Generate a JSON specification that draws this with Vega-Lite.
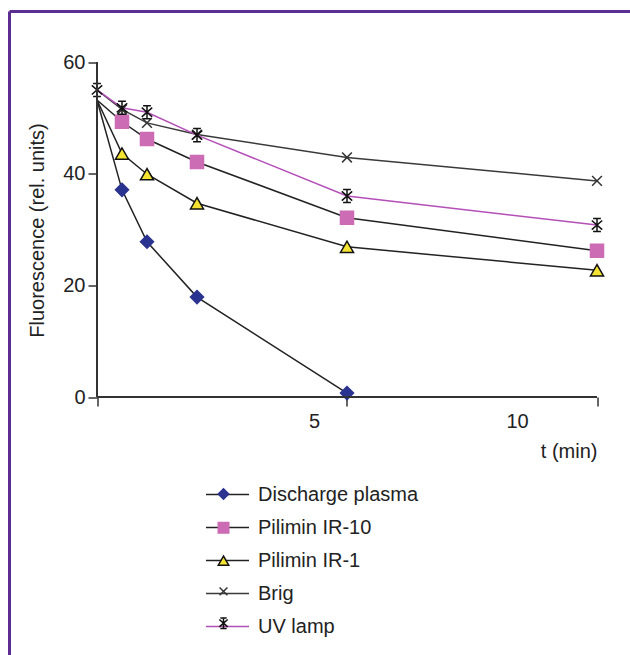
{
  "$schema": "https://vega.github.io/schema/vega-lite/v6.json",
  "width": 620.5,
  "height": 643.5,
  "autosize": {"type": "none"},
  "padding": {"left": 9.5, "top": 11.5, "right": 0, "bottom": 0},
  "background": "white",
  "view": {"stroke": "#5c2e91", "strokeWidth": 3, "strokeDash": [620.5, 1264, 643.5, 0]},
  "config": {
    "font": "Liberation Sans",
    "axis": {"grid": false, "domain": false, "labelFont": "Liberation Sans", "titleFont": "Liberation Sans", "labelFontSize": 20, "titleFontSize": 20, "labelColor": "#222", "titleColor": "#222", "titleFontWeight": "normal", "tickColor": "#333", "tickWidth": 1.5, "tickSize": 9}
  },
  "data": {"values": [
    {"series": "Discharge plasma", "t": 0, "v": 53.2},
    {"series": "Discharge plasma", "t": 0.5, "v": 37.1},
    {"series": "Discharge plasma", "t": 1, "v": 27.8},
    {"series": "Discharge plasma", "t": 2, "v": 17.9},
    {"series": "Discharge plasma", "t": 5, "v": 0.7},
    {"series": "Pilimin IR-10", "t": 0, "v": 53.2},
    {"series": "Pilimin IR-10", "t": 0.5, "v": 49.3},
    {"series": "Pilimin IR-10", "t": 1, "v": 46.2},
    {"series": "Pilimin IR-10", "t": 2, "v": 42.1},
    {"series": "Pilimin IR-10", "t": 5, "v": 32.1},
    {"series": "Pilimin IR-10", "t": 10, "v": 26.2},
    {"series": "Pilimin IR-1", "t": 0, "v": 53.2},
    {"series": "Pilimin IR-1", "t": 0.5, "v": 43.6},
    {"series": "Pilimin IR-1", "t": 1, "v": 39.9},
    {"series": "Pilimin IR-1", "t": 2, "v": 34.7},
    {"series": "Pilimin IR-1", "t": 5, "v": 26.9},
    {"series": "Pilimin IR-1", "t": 10, "v": 22.7},
    {"series": "Brig", "t": 0, "v": 55},
    {"series": "Brig", "t": 0.5, "v": 51.5},
    {"series": "Brig", "t": 1, "v": 49.1},
    {"series": "Brig", "t": 2, "v": 47},
    {"series": "Brig", "t": 5, "v": 42.9},
    {"series": "Brig", "t": 10, "v": 38.7},
    {"series": "UV lamp", "t": 0, "v": 55},
    {"series": "UV lamp", "t": 0.5, "v": 51.8},
    {"series": "UV lamp", "t": 1, "v": 51.0},
    {"series": "UV lamp", "t": 2, "v": 46.9},
    {"series": "UV lamp", "t": 5, "v": 36.0},
    {"series": "UV lamp", "t": 10, "v": 30.8}
  ]},
  "layer": [
    {
      "mark": {"type": "line", "strokeWidth": 1.5},
      "encoding": {
        "x": {"field": "t", "type": "quantitative",
          "scale": {"domain": [-1.75, 10.66], "nice": false, "zero": false},
          "axis": {"values": [0, 5, 10], "labelExpr": "datum.value == 0 ? '' : datum.label", "offset": -258, "labelPadding": 5, "labelFlush": false, "labelOverlap": false,
            "labelOffset": {"condition": {"test": "datum.value == 5", "value": -33}, "value": -80},
            "title": "t (min)", "titleX": 587.5, "titleY": 60, "titleAlign": "right", "titleBaseline": "alphabetic", "titleAnchor": null}},
        "y": {"field": "v", "type": "quantitative",
          "scale": {"domain": [-46.209, 69.045], "nice": false, "zero": false},
          "axis": {"values": [0, 20, 40, 60], "offset": -87.5, "labelPadding": 3,
            "title": "Fluorescence (rel. units)", "titleX": -60, "titleY": 218.5, "titleAngle": -90, "titleAlign": "center", "titleBaseline": "middle"}},
        "color": {"field": "series", "type": "nominal",
          "sort": ["Discharge plasma", "Pilimin IR-10", "Pilimin IR-1", "Brig", "UV lamp"],
          "scale": {"range": ["#222222", "#222222", "#222222", "#3a3a3a", "#b44fb8"]},
          "legend": {"title": null, "orient": "none", "legendX": 195.5, "legendY": 460.5, "symbolType": "stroke", "symbolSize": 1849, "symbolStrokeWidth": 1.5, "labelFontSize": 20, "labelColor": "#222", "labelOffset": 8, "rowPadding": -0.6, "padding": 0, "labelLimit": 400}}
      }
    },
    {
      "transform": [{"filter": "datum.t > 0 || datum.series == 'UV lamp'"}],
      "mark": {"type": "point", "filled": true, "size": 170, "strokeWidth": 1.5, "opacity": 1},
      "encoding": {
        "x": {"field": "t", "type": "quantitative"},
        "y": {"field": "v", "type": "quantitative"},
        "shape": {"field": "series", "type": "nominal",
          "scale": {"domain": ["Discharge plasma", "Pilimin IR-10", "Pilimin IR-1", "Brig", "UV lamp"],
            "range": ["diamond", "square", "triangle-up", "M-0.75,-0.75L0.75,0.75M-0.75,0.75L0.75,-0.75", "M-0.8,-0.7L0.8,0.7M-0.8,0.7L0.8,-0.7M0,-1V1M-0.6,-1H0.6M-0.6,1H0.6"]},
          "legend": {"title": null, "orient": "none", "legendX": 208, "legendY": 476.5, "symbolSize": 110, "symbolStrokeWidth": 1.5, "labelExpr": "''", "labelOffset": 0, "rowPadding": 15.8, "padding": 0}},
        "fill": {"field": "series", "type": "nominal",
          "scale": {"domain": ["Discharge plasma", "Pilimin IR-10", "Pilimin IR-1", "Brig", "UV lamp"],
            "range": ["#2b3390", "#cc6cb4", "#f5e331", "transparent", "transparent"]},
          "legend": {"title": null, "orient": "none", "legendX": 208, "legendY": 476.5, "symbolSize": 110, "symbolStrokeWidth": 1.5, "labelExpr": "''", "labelOffset": 0, "rowPadding": 15.8, "padding": 0}},
        "stroke": {"field": "series", "type": "nominal",
          "scale": {"domain": ["Discharge plasma", "Pilimin IR-10", "Pilimin IR-1", "Brig", "UV lamp"],
            "range": ["#2b3390", "#cc6cb4", "#111111", "#333333", "#111111"]},
          "legend": {"title": null, "orient": "none", "legendX": 208, "legendY": 476.5, "symbolSize": 110, "symbolStrokeWidth": 1.5, "labelExpr": "''", "labelOffset": 0, "rowPadding": 15.8, "padding": 0}}
      }
    },
    {
      "mark": {"type": "rule", "color": "#333", "strokeWidth": 1.5},
      "encoding": {"x": {"datum": 0, "type": "quantitative"}, "y": {"datum": 0, "type": "quantitative"}, "y2": {"datum": 60}}
    },
    {
      "mark": {"type": "rule", "color": "#333", "strokeWidth": 1.5},
      "encoding": {"x": {"datum": 0, "type": "quantitative"}, "x2": {"datum": 10}, "y": {"datum": 0, "type": "quantitative"}}
    }
  ]
}
